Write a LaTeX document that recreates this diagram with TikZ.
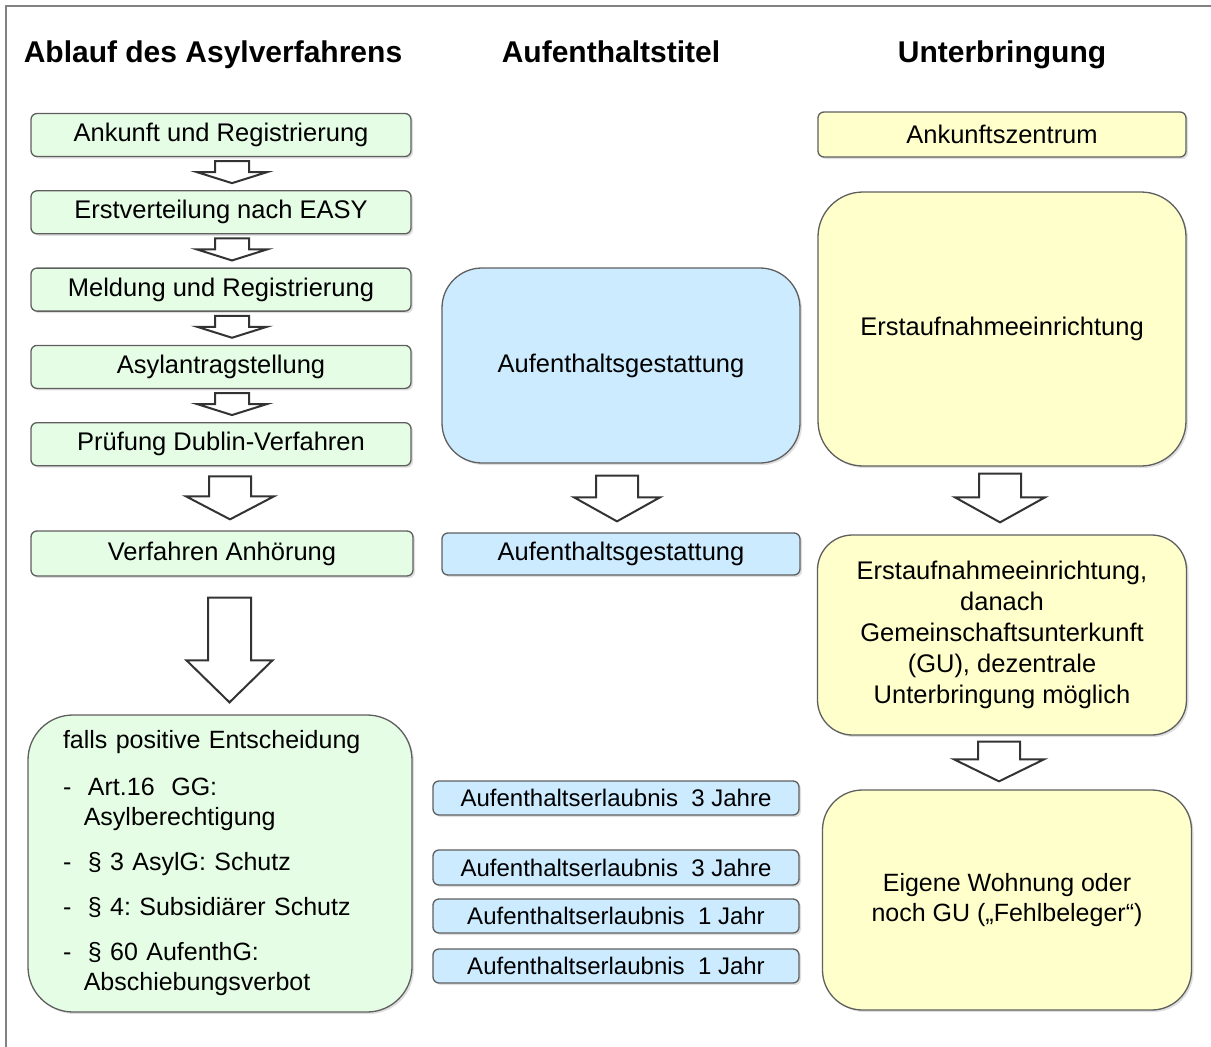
\documentclass[tikz,border=0pt]{standalone}
\usepackage{fontspec}
\setmainfont{Liberation Sans}
\usepackage{tikz}
\usetikzlibrary{
  calc,
  positioning,
  shadows,
}
\frenchspacing
\definecolor{boxgreen}{RGB}{229, 252, 229}
\definecolor{boxblue}{RGB}{204, 235, 255}
\definecolor{boxyellow}{RGB}{255, 255, 204}
\definecolor{boxline}{RGB}{95, 95, 95}
\definecolor{framegray}{RGB}{130, 130, 130}
\tikzstyle{box} = [
  draw=boxline,
  line width=1.3pt,
  rounded corners=6pt,
  inner sep=0pt,
  align=center,
  font=\fontsize{25.5}{31}\selectfont,
  drop shadow={shadow xshift=2pt, shadow yshift=-2pt, opacity=0.25},
]
\tikzstyle{greenbox} = [box, fill=boxgreen]
\tikzstyle{bluebox} = [box, fill=boxblue]
\tikzstyle{yellowbox} = [box, fill=boxyellow]
\tikzstyle{coltitle} = [anchor=base, font=\fontsize{30}{36}\selectfont\bfseries]
\tikzstyle{blockarrow} = [draw=black!80, line width=2pt, fill=white, line join=miter]
% from, to, dx, shaft, head, head length, gap top, gap bottom
\newcommand{\fatarrow}[8]{%
  \draw[blockarrow]
    ($(#1.south)+(#3-#4,#7)$) -- ($(#1.south)+(#3+#4,#7)$)
    -- ($(#1.south |- #2.north)+(#3+#4,-#8-#6)$)
    -- ($(#1.south |- #2.north)+(#3+#5,-#8-#6)$)
    -- ($(#1.south |- #2.north)+(#3,-#8)$)
    -- ($(#1.south |- #2.north)+(#3-#5,-#8-#6)$)
    -- ($(#1.south |- #2.north)+(#3-#4,-#8-#6)$) -- cycle;}

\begin{document}
\begin{tikzpicture}[x=1pt, y=-1pt, node distance=33pt and 0pt]
    \useasboundingbox (0,0) rectangle (1211,1047);
    \draw[framegray, line width=2pt] (6,1047) -- (6,6) -- (1211,6);

    % column titles
    \node[coltitle] (t1) at (213,62) {Ablauf des Asylverfahrens};
    \node[coltitle] (t2) at (611,62) {Aufenthaltstitel};
    \node[coltitle] (t3) at (1002,62) {Unterbringung};

    % Asylverfahren
    \node[greenbox, minimum width=380, minimum height=43] (r1) at (221,135) {Ankunft und Registrierung};
    \node[greenbox, minimum width=380, minimum height=43] (r2) [below=of r1] {Erstverteilung nach EASY};
    \node[greenbox, minimum width=380, minimum height=43] (r3) [below=of r2] {Meldung und Registrierung};
    \node[greenbox, minimum width=380, minimum height=43] (r4) [below=of r3] {Asylantragstellung};
    \node[greenbox, minimum width=380, minimum height=43] (r5) [below=of r4] {Prüfung Dublin-Verfahren};
    \node[greenbox, minimum width=382, minimum height=45] (r6) at (222,553.5) {Verfahren Anhörung};
    \node[greenbox, rounded corners=45pt, minimum width=384, minimum height=297, text width=314pt,
          align=left, font=\fontsize{25}{30}\selectfont] (r7) at (220,863.5)
        {falls positive Entscheidung\\[17pt]
         -\ \ Art.16\ \ GG:\\
         \hphantom{-\ }\,Asylberechtigung\\[15pt]
         -\ \ § 3 AsylG: Schutz\\[15pt]
         -\ \ § 4: Subsidiärer Schutz\\[15pt]
         -\ \ § 60 AufenthG:\\
         \hphantom{-\ }\,Abschiebungsverbot};

    % Aufenthaltstitel
    \node[bluebox, rounded corners=40pt, minimum width=358, minimum height=195] (m1) at (621,365.5) {Aufenthaltsgestattung};
    \node[bluebox, minimum width=358, minimum height=42] (m2) at (621,554) {Aufenthaltsgestattung};
    \node[bluebox, minimum width=366, minimum height=34, font=\fontsize{24}{29}\selectfont] (p1) at (616,798) {Aufenthaltserlaubnis\ \ 3 Jahre};
    \node[bluebox, minimum width=366, minimum height=35, font=\fontsize{24}{29}\selectfont] (p2) at (616,867.5) {Aufenthaltserlaubnis\ \ 3 Jahre};
    \node[bluebox, minimum width=366, minimum height=34, font=\fontsize{24}{29}\selectfont] (p3) at (616,916) {Aufenthaltserlaubnis\ \ 1 Jahr};
    \node[bluebox, minimum width=366, minimum height=34, font=\fontsize{24}{29}\selectfont] (p4) at (616,966) {Aufenthaltserlaubnis\ \ 1 Jahr};

    % Unterbringung
    \node[yellowbox, minimum width=368, minimum height=45] (u1) at (1002,134.5) {Ankunftszentrum};
    \node[yellowbox, rounded corners=45pt, minimum width=368, minimum height=274] (u2) at (1002,329) {Erstaufnahmeeinrichtung};
    \node[yellowbox, rounded corners=35pt, minimum width=369, minimum height=200] (u3) at (1002,635)
        {Erstaufnahmeeinrichtung,\\ danach\\ Gemeinschaftsunterkunft\\ (GU), dezentrale\\ Unterbringung möglich};
    \node[yellowbox, rounded corners=40pt, minimum width=369, minimum height=220,
          font=\fontsize{25}{30}\selectfont] (u4) at (1007,900)
        {Eigene Wohnung oder\\ noch GU („Fehlbeleger“)};

    % block arrows
    \foreach \a/\b in {r1/r2, r2/r3, r3/r4, r4/r5}
        {\fatarrow{\a}{\b}{11}{17}{35}{11}{4}{7}}
    \fatarrow{r5}{r6}{9}{21}{44}{23}{10}{11}
    \fatarrow{r6}{r7}{7.5}{21.5}{43}{42}{21}{12}
    \fatarrow{m1}{m2}{-4}{21}{43}{24}{12}{11}
    \fatarrow{u2}{u3}{-2}{21}{45}{25}{7}{12}
    \fatarrow{u3}{u4}{-3}{21}{45}{22}{6}{8}
\end{tikzpicture}
\end{document}
